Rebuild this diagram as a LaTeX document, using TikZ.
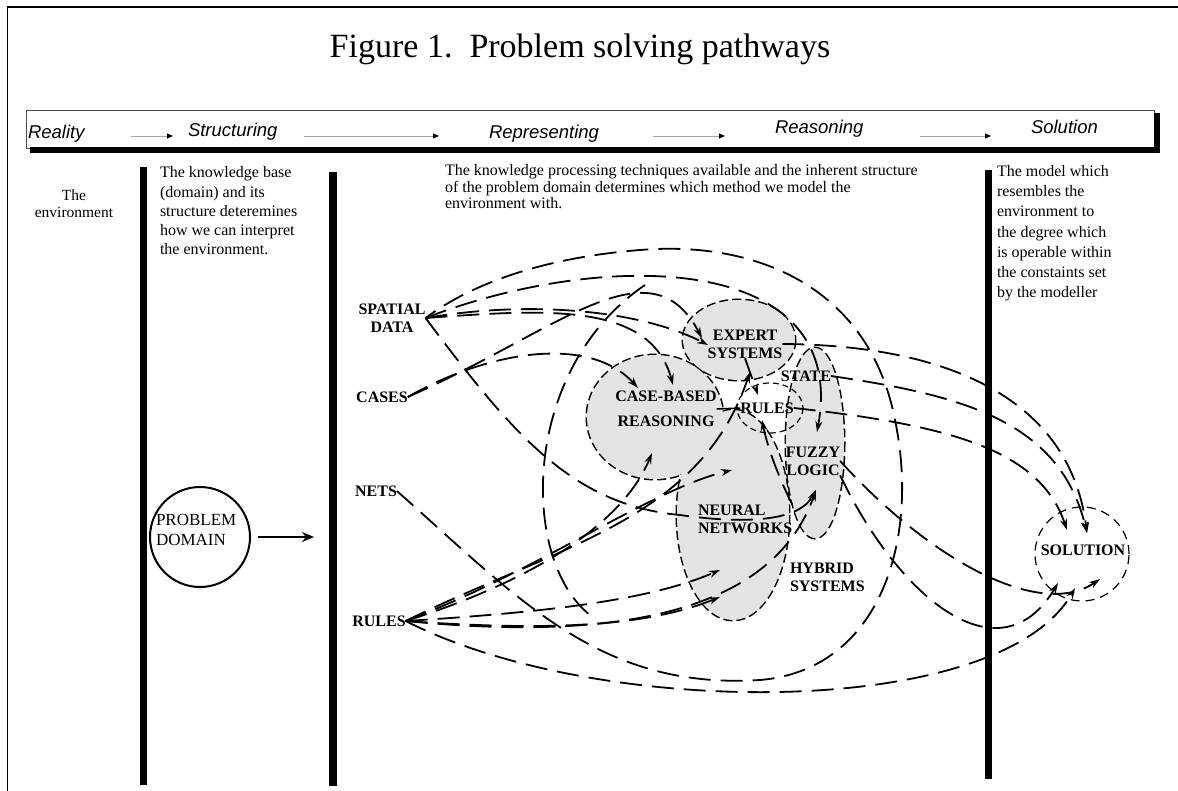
\documentclass[tikz,border=0pt]{standalone}
\usepackage{fontspec}
\setmainfont{Liberation Serif}
\newfontfamily\hdrfont{Liberation Sans}
\usetikzlibrary{arrows.meta}
\begin{document}
\begin{tikzpicture}[x=1pt,y=-1pt,
  every node/.style={inner sep=0pt,outer sep=0pt},
  plain/.style={font=\fontsize{16}{19.3}\selectfont},
  hdr/.style={font=\hdrfont\itshape\fontsize{18.5}{20}\selectfont, anchor=base west},
  hdrarrow/.style={draw=gray!70,line width=0.9pt,-{Triangle[length=6pt,width=5pt,color=black]}},
  tag/.style={font=\bfseries\fontsize{16}{18}\selectfont, align=center},
  flow/.style={line width=1.8pt, dash pattern=on 22pt off 10pt, -{Stealth[length=11pt,width=7pt]}},
  loopline/.style={line width=1.8pt, dash pattern=on 22pt off 10pt},
  blobedge/.style={line width=3pt, dash pattern=on 9pt off 4pt},
]
\useasboundingbox (0,0) rectangle (1178,791);
\fill[white] (0,0) rectangle (1178,791);

% outer frame (top and left edges)
\draw[line width=1.3pt] (7.5,791) -- (7.5,7) -- (1178,7);

% title
\node[anchor=base, font=\fontsize{34}{40}\selectfont] (title) at (580,58) {Figure 1.\ \ Problem solving pathways};

% header bar with drop shadow
\draw[line width=0.8pt, draw=black!70] (26,110) rectangle (1154,148);
\fill (30,147) rectangle (1160,153);
\fill (1154,113) rectangle (1160,153);

\node[hdr] (reality) at (28,139) {Reality};
\node[hdr] (structuring) at (188,137) {Structuring};
\node[hdr] (representing) at (489,139) {Representing};
\node[hdr] (reasoning) at (775,134) {Reasoning};
\node[hdr] (solutionhdr) at (1031,134) {Solution};

\coordinate (h1a) at (131,136); \coordinate (h1b) at (173,136);
\coordinate (h2a) at (304,136); \coordinate (h2b) at (439,136);
\coordinate (h3a) at (653,136); \coordinate (h3b) at (725,136);
\coordinate (h4a) at (920,136); \coordinate (h4b) at (991,136);
\draw[hdrarrow] (h1a) -- (h1b);
\draw[hdrarrow] (h2a) -- (h2b);
\draw[hdrarrow] (h3a) -- (h3b);
\draw[hdrarrow] (h4a) -- (h4b);

% stage dividers
\fill (140,167) rectangle (147,785);
\fill (329,172) rectangle (337,786);
\fill (985,170) rectangle (992,779);

% stage descriptions (anchored on the baseline of their last line)
\node[font=\fontsize{15.5}{17}\selectfont, anchor=base, align=center] (envtxt) at (74,218) {The\\environment};
\node[plain, anchor=base west, align=left] (kbtxt) at (160,255)
  {The knowledge base\\(domain) and its\\structure deteremines\\how we can interpret\\the environment.};
\node[font=\fontsize{16}{16.5}\selectfont, anchor=base west, align=left] (kptxt) at (445,209)
  {The knowledge processing techniques available and the inherent structure\\of the problem domain determines which method we model the\\environment with.};
\node[font=\fontsize{16}{20.3}\selectfont, anchor=base west, align=left] (modeltxt) at (997,298)
  {The model which\\resembles the\\environment to\\the degree which\\is operable within\\the constaints set\\by the modeller};

% problem domain
\node[circle, draw, line width=2pt, minimum size=100pt] (problem) at (200,537) {};
\node[font=\fontsize{17}{20}\selectfont, anchor=base west, align=left] (problemtxt) at (156,545) {PROBLEM\\DOMAIN};
\coordinate (intoRep) at (314,537);
\draw[line width=2.6pt, -{Stealth[length=12pt,width=10pt]}, shorten <=8pt] (problem.east) -- (intoRep);

% knowledge processing techniques: grey cloud
\draw[blobedge] (655,417) ellipse [x radius=68, y radius=62];
\draw[blobedge] (739,340) ellipse [x radius=56, y radius=40];
\draw[blobedge] (815,443) ellipse [x radius=29, y radius=95];
\draw[blobedge] (733,515) ellipse [x radius=56, y radius=105];
\fill[gray!22] (655,417) ellipse [x radius=68, y radius=62];
\fill[gray!22] (739,340) ellipse [x radius=56, y radius=40];
\fill[gray!22] (815,443) ellipse [x radius=29, y radius=95];
\fill[gray!22] (733,515) ellipse [x radius=56, y radius=105];
\draw[line width=1.2pt, dash pattern=on 6pt off 4pt] (770,408) ellipse [x radius=33, y radius=25];

% solution
\node[circle, draw, line width=1.2pt, dash pattern=on 9pt off 6pt, minimum size=94pt] (solution) at (1082,554) {};

% representations
\node[tag] (spatial) at (392,318) {SPATIAL\\DATA};
\node[tag] (cases) at (382,397) {CASES};
\node[tag] (nets) at (376,491) {NETS};
\node[tag] (rulesL) at (379,621) {RULES};

% techniques
\node[tag] (expert) at (745,344) {EXPERT\\SYSTEMS};
\node[tag] (state) at (806,376) {STATE};
\node[tag] (rulesIn) at (767,408) {RULES};
\node[tag, font=\bfseries\fontsize{16}{25}\selectfont] (cbr) at (666,409) {CASE-BASED\\REASONING};
\node[tag] (fuzzy) at (813,461) {FUZZY\\LOGIC};
\node[tag, align=left, anchor=west] (neural) at (698,519) {NEURAL\\NETWORKS};
\node[tag, align=left, anchor=west] (hybrid) at (790,577) {HYBRID\\SYSTEMS};
\node[tag] (soltxt) at (1083,550) {SOLUTION};

% arrow targets
\coordinate (expTop) at (702,338);
\coordinate (expLeft) at (708,345);
\coordinate (expBot) at (750,372);
\coordinate (cbrTop) at (673,385);
\coordinate (cbrLeft) at (638,388);
\coordinate (cbrBot) at (652,453);
\coordinate (fuzTop) at (817,432);
\coordinate (fuzIn) at (816,490);
\coordinate (nnUp) at (732,470);
\coordinate (nnMid) at (720,570);
\coordinate (nnLow) at (720,597);
\coordinate (ruTop) at (758,395);
\coordinate (ruBot) at (762,420);
\coordinate (solTopA) at (1067,530);
\coordinate (solTopB) at (1087,533);
\coordinate (solBotA) at (1058,583);
\coordinate (solBotB) at (1075,588);
\coordinate (solBotC) at (1100,579);
\coordinate (arcTop) at (645,285);
\coordinate (arcEnd) at (590,615);

% pathways around the techniques
\draw[loopline] (nets.east) .. controls (520,600) and (600,690) .. (760,680)
  .. controls (880,670) and (920,540) .. (895,420)
  .. controls (870,290) and (760,240) .. (640,250)
  .. controls (540,258) and (470,285) .. (spatial.east);
\draw[loopline] (arcTop) .. controls (520,370) and (520,560) .. (arcEnd);

\draw[flow] (spatial.east) .. controls (600,250) and (850,250) .. (fuzTop);
\draw[flow] (spatial.east) .. controls (530,300) and (640,310) .. (expLeft);
\draw[flow] (spatial.east) .. controls (540,310) and (650,300) .. (cbrTop);
\draw[flow] (spatial.east) .. controls (510,430) and (570,505) .. (680,515)
  .. controls (750,525) and (800,520) .. (fuzIn);
\draw[flow] (cases.east) .. controls (490,350) and (590,335) .. (cbrLeft);
\draw[flow] (cases.east) .. controls (560,330) and (650,240) .. (expTop);
\draw[flow] (rulesL.east) .. controls (520,585) and (620,530) .. (cbrBot);
\draw[flow] (rulesL.east) .. controls (540,570) and (650,490) .. (nnUp);
\draw[flow] (rulesL.east) .. controls (560,545) and (700,520) .. (expBot);
\draw[flow] (rulesL.east) .. controls (550,612) and (650,600) .. (nnMid);
\draw[flow] (rulesL.east) .. controls (560,632) and (650,625) .. (nnLow);
\draw[flow] (rulesL.east) .. controls (600,640) and (770,620) .. (fuzIn);
\draw[flow] (rulesL.east) .. controls (600,720) and (1000,720) .. (solBotB);

\draw[flow] (expert.south) -- (ruTop);
\draw[flow] (neural.north east) .. controls (780,480) and (768,450) .. (ruBot);
\draw[line width=1.5pt] (cbr.east) -- (rulesIn.west);

\draw[flow] (expert.east) .. controls (950,345) and (1070,400) .. (solTopB);
\draw[flow] (state.east) .. controls (960,395) and (1060,420) .. (solTopB);
\draw[flow] (rulesIn.east) .. controls (950,425) and (1040,450) .. (solTopA);
\draw[flow] (fuzzy.south east) .. controls (900,600) and (1000,680) .. (solBotA);
\draw[flow] (fuzzy.east) .. controls (930,560) and (1040,620) .. (solBotC);
\end{tikzpicture}
\end{document}
